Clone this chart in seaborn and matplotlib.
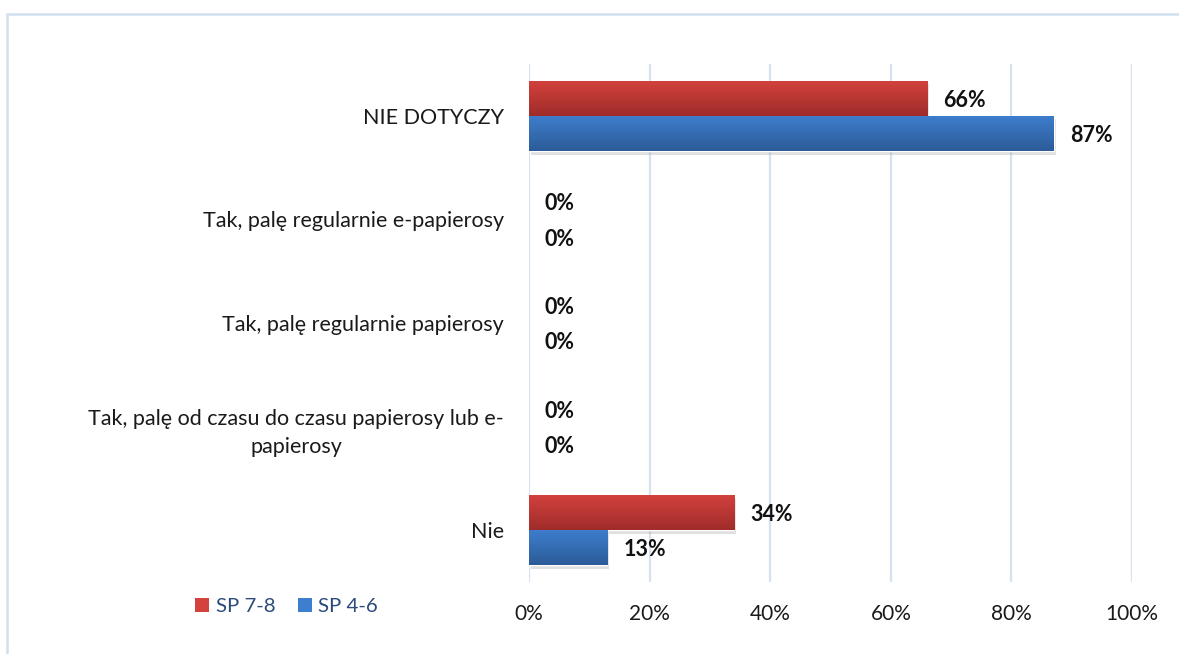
import numpy as np
import pandas as pd
import matplotlib
matplotlib.use("Agg")
import matplotlib.pyplot as plt
import seaborn as sns
from matplotlib import patheffects as pe
from matplotlib.colors import LinearSegmentedColormap
from matplotlib.patches import Rectangle, Patch

# Survey answers (top to bottom) and the share of each school group
categories = [
    "NIE DOTYCZY",
    "Tak, palę regularnie e-papierosy",
    "Tak, palę regularnie papierosy",
    "Tak, palę od czasu do czasu papierosy lub e-\npapierosy",
    "Nie",
]
sp78 = [66, 0, 0, 0, 34]
sp46 = [87, 0, 0, 0, 13]
groups = ["SP 7-8", "SP 4-6"]
x_ticks = [0, 20, 40, 60, 80, 100]

df = pd.DataFrame({
    "kategoria": categories * 2,
    "grupa": [groups[0]] * len(categories) + [groups[1]] * len(categories),
    "procent": sp78 + sp46,
})

# base colour, light top and dark bottom of the gradient for each group
base = {"SP 7-8": "#C0392F", "SP 4-6": "#3470BA"}
grad_cols = {
    "SP 7-8": ("#D3423D", "#A02C2A"),
    "SP 4-6": ("#3E7ECE", "#2C5C98"),
}

sns.set_theme(style="white")
plt.rcParams["font.family"] = ["Lato", "DejaVu Sans"]

fig = plt.figure(figsize=(11.79, 6.54), dpi=100)
ax = fig.add_axes([0.4487, 0.110, 0.5115, 0.792])

sns.barplot(
    data=df, y="kategoria", x="procent", hue="grupa",
    order=categories, hue_order=groups, palette=base,
    orient="h", width=0.68, saturation=1, legend=False, ax=ax,
)

xlim = (0, 100)
ylim = ax.get_ylim()

# gradient fill and soft shadow on every bar
grad = np.linspace(0, 1, 64).reshape(-1, 1)
for cont, g in zip(ax.containers, groups):
    cmap = LinearSegmentedColormap.from_list(g, grad_cols[g])
    for patch in cont:
        w = patch.get_width()
        if w <= 0:
            patch.set_visible(False)
            continue
        x0, y0, h = patch.get_x(), patch.get_y(), patch.get_height()
        patch.set_path_effects([
            pe.SimplePatchShadow(offset=(1.5, -2.5), shadow_rgbFace="#9a9a9a", alpha=0.3),
            pe.Normal(),
        ])
        im = ax.imshow(grad, cmap=cmap, aspect="auto", origin="upper",
                       extent=(x0, x0 + w, y0 + h, y0), zorder=3)
        im.set_clip_path(patch)
    texts = ax.bar_label(cont, labels=[f"{v:.0f}%" for v in cont.datavalues],
                         padding=11.5, fontsize=15.5, fontweight="bold", color="#111111")
    for t in texts:
        t.set_va("center_baseline")

ax.set_xlim(*xlim)
ax.set_ylim(*ylim)
ax.set_xticks(x_ticks)
ax.set_xticklabels([f"{t}%" for t in x_ticks])
ax.set_xlabel("")
ax.set_ylabel("")
ax.grid(axis="x", color="#D6E2F0", linewidth=1.6)
ax.set_axisbelow(True)
for s in ax.spines.values():
    s.set_visible(False)
ax.tick_params(axis="x", length=0, pad=16, labelsize=15, labelcolor="#1a1a1a")
ax.tick_params(axis="y", length=0, pad=18, labelsize=15.5, labelcolor="#1a1a1a")
for lbl in ax.get_yticklabels():
    lbl.set_multialignment("center")
    lbl.set_linespacing(1.5)

handles = [Patch(facecolor=grad_cols[g][0], edgecolor="none", label=g) for g in groups]
leg = fig.legend(handles=handles, loc="center", bbox_to_anchor=(0.243, 0.073),
                 ncol=2, frameon=False, fontsize=14.7, handlelength=0.7,
                 handleheight=0.7, handletextpad=0.3, columnspacing=1.1)
for t in leg.get_texts():
    t.set_color("#2B4A7A")

# outer chart frame
fig.add_artist(Rectangle((0.006, -0.2), 1.2, 1.1786, transform=fig.transFigure,
                         fill=False, edgecolor="#D3E0EE", linewidth=1.8))

fig.savefig("out.png", dpi=100)
